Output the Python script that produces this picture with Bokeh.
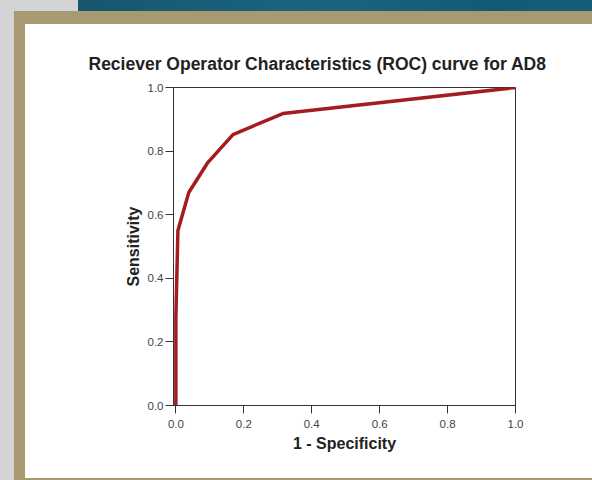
from bokeh.plotting import figure
from bokeh.models import Range1d, FixedTicker, PrintfTickFormatter
from bokeh.embed import file_html
from bokeh.resources import INLINE

# ROC data
fpr = [0.0, 0.0, 0.006, 0.038, 0.094, 0.168, 0.315, 1.0]
tpr = [0.0, 0.28, 0.55, 0.67, 0.764, 0.852, 0.918, 1.0]
ticks = [0.0, 0.2, 0.4, 0.6, 0.8, 1.0]

FONT = "Liberation Sans"

p = figure(width=592, height=480, output_backend="svg", toolbar_location=None,
           x_range=Range1d(-0.007, 1), y_range=Range1d(0, 1),
           min_border_left=173, min_border_right=77,
           min_border_top=87, min_border_bottom=75)

# page decoration (grey page, teal band, tan frame, white panel) as CSS background
p.styles = {
    "background": (
        "linear-gradient(#ffffff,#ffffff) 25px 24px / 567px 454px no-repeat, "
        "linear-gradient(#a89a70,#a89a70) 14px 11px / 100% 100% no-repeat, "
        "linear-gradient(90deg,#17566d,#1b6480 40%,#155a74 70%,#1a5f7a) 78px 0px / 100% 11px no-repeat, "
        "#d4d4d4"
    )
}

p.line(fpr, tpr, line_color="#a51c1e", line_width=3.5)

p.grid.visible = False
p.background_fill_color = "white"
p.border_fill_alpha = 0
p.outline_line_color = "#333333"
p.outline_line_width = 1

p.title.text = "Reciever Operator Characteristics (ROC) curve for AD8"
p.title.text_font = FONT
p.title.text_font_size = "17.5px"
p.title.text_font_style = "bold"
p.title.text_color = "#222222"
p.title.align = "left"
p.title.offset = -85
p.title.standoff = 28

for ax in (p.xaxis[0], p.yaxis[0]):
    ax.ticker = FixedTicker(ticks=ticks)
    ax.formatter = PrintfTickFormatter(format="%.1f")
    ax.major_tick_out = 8
    ax.major_tick_in = 0
    ax.minor_tick_line_color = None
    ax.axis_line_color = "#333333"
    ax.major_tick_line_color = "#333333"
    ax.major_label_text_font = FONT
    ax.major_label_text_font_size = "11.5px"
    ax.major_label_text_color = "#444444"
    ax.axis_label_text_font = FONT
    ax.axis_label_text_font_size = "16px"
    ax.axis_label_text_font_style = "bold"
    ax.axis_label_text_color = "#222222"

p.xaxis.axis_label = "1 - Specificity"
p.yaxis.axis_label = "Sensitivity"
p.xaxis.major_label_standoff = 6
p.yaxis.major_label_standoff = 2
p.xaxis.axis_label_standoff = 4
p.yaxis.axis_label_standoff = 3

open("out.html", "w").write(file_html(p, INLINE))
